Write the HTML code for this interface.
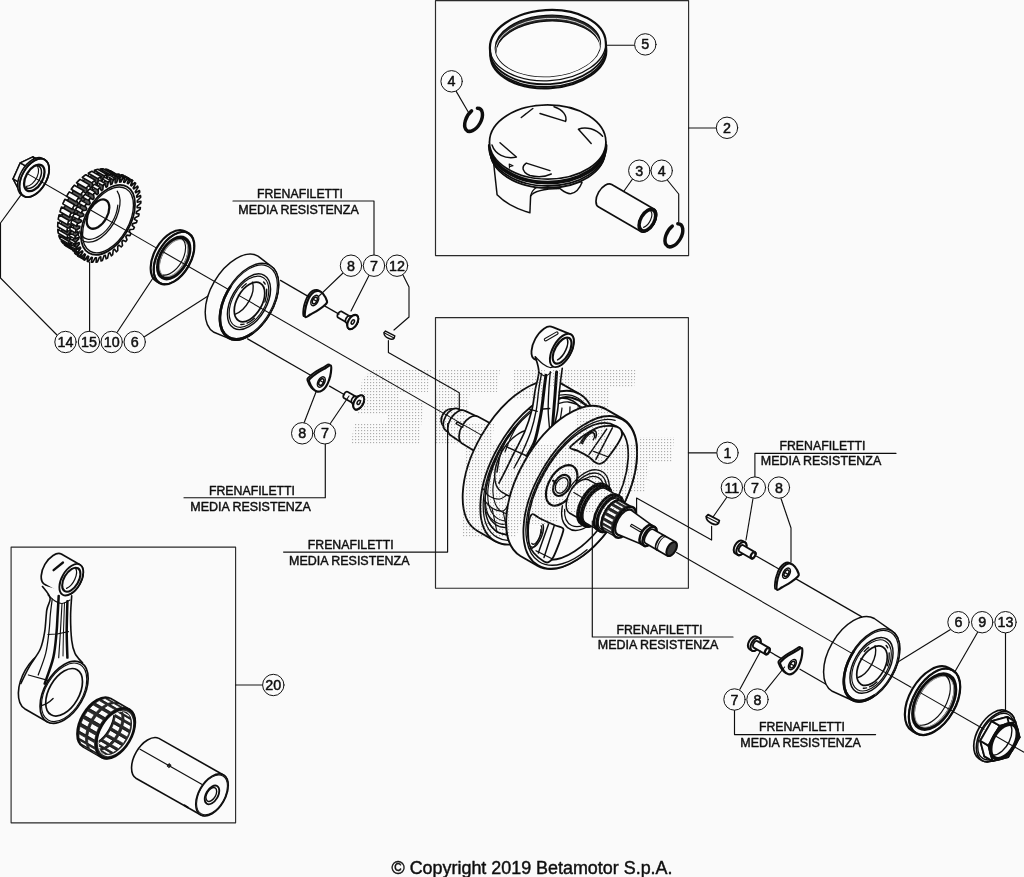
<!DOCTYPE html>
<html><head><meta charset="utf-8">
<style>html,body{margin:0;padding:0;background:#fafafa;}svg{display:block}</style></head>
<body><svg width="1024" height="877" viewBox="0 0 1024 877" font-family="'Liberation Sans', sans-serif" fill="none" stroke="#111" stroke-linecap="round" stroke-linejoin="round">
<rect x="0" y="0" width="1024" height="877" fill="#fafafa" stroke="none"/>
<defs><filter id="soft" x="0" y="0" width="100%" height="100%" filterUnits="userSpaceOnUse"><feGaussianBlur stdDeviation="0.38"/></filter></defs>
<g filter="url(#soft)">
<rect x="435.5" y="0.6" width="253.10000000000002" height="255.0" fill="none" stroke-width="1.15" stroke="#2a2a2a"/>
<rect x="435.5" y="317.6" width="252.89999999999998" height="270.6" fill="none" stroke-width="1.15" stroke="#2a2a2a"/>
<rect x="11.1" y="547.1" width="224.5" height="275.69999999999993" fill="none" stroke-width="1.15" stroke="#2a2a2a"/>
<path d="M156.6 281.3 A16.63 28.80 30 0 1 185.4 231.4 L188.4 233.2 A16.63 28.80 30 0 1 159.6 283.0 Z" fill="#fbfbfb" stroke-width="2.18" />
<ellipse cx="174.0" cy="258.1" rx="16.63" ry="28.80" transform="rotate(30 174.0 258.1)" fill="#fbfbfb" stroke-width="2.18" />
<ellipse cx="174.0" cy="258.1" rx="16.46" ry="28.50" transform="rotate(30 174.0 258.1)" fill="none" stroke-width="1.72" />
<ellipse cx="173.7" cy="258.0" rx="12.93" ry="22.40" transform="rotate(30 173.7 258.0)" fill="#fbfbfb" stroke-width="3.79" />
<ellipse cx="173.7" cy="258.0" rx="11.66" ry="20.20" transform="rotate(30 173.7 258.0)" fill="none" stroke-width="0.92" stroke="#999"/>
<path d="M180.0 237.6 A12.01 20.80 30 0 1 163.2 275.1" stroke-width="1.15" fill="none" />
<path d="M214.0 332.3 A25.41 44.00 30 0 1 258.0 256.1 L270.0 265.3 A24.25 42.00 30 0 1 228.0 338.1 Z" fill="#fbfbfb" stroke-width="1.49" />
<ellipse cx="249.0" cy="301.7" rx="24.25" ry="42.00" transform="rotate(30 249.0 301.7)" fill="#fbfbfb" stroke-width="1.49" />
<ellipse cx="249.0" cy="301.7" rx="23.21" ry="40.20" transform="rotate(30 249.0 301.7)" fill="none" stroke-width="1.15" />
<path d="M251.5 333.7 A23.73 41.10 30 0 1 230.3 286.8" stroke-width="2.53" fill="none" />
<ellipse cx="249.0" cy="301.7" rx="17.61" ry="30.50" transform="rotate(30 249.0 301.7)" fill="none" stroke-width="1.49" />
<ellipse cx="249.0" cy="301.7" rx="16.17" ry="28.00" transform="rotate(30 249.0 301.7)" fill="none" stroke-width="1.15" />
<ellipse cx="249.5" cy="302.0" rx="12.47" ry="21.60" transform="rotate(30 249.5 302.0)" fill="#fbfbfb" stroke-width="1.72" />
<path d="M252.5 282.1 A12.24 21.20 30 0 1 234.8 314.3" stroke-width="1.38" fill="none" />
<path d="M266.7 289.3 A14.32 24.80 30 0 1 264.9 302.0" stroke-width="1.38" fill="none" />
<path d="M254.4 318.3 A14.32 24.80 30 0 1 247.1 323.2" stroke-width="1.38" fill="none" />
<path d="M244.1 324.2 A14.32 24.80 30 0 1 240.8 324.5" stroke-width="1.38" fill="none" />
<path d="M263.6 281.9 A14.32 24.80 30 0 1 265.2 284.1" stroke-width="1.38" fill="none" />
<path d="M241.8 287.8 A14.32 24.80 30 0 1 246.2 283.7" stroke-width="1.38" fill="none" />
<path d="M832.3 691.3 A24.25 42.00 30 0 1 874.3 618.5 L891.5 630.7 A23.10 40.00 30 0 1 851.5 700.0 Z" fill="#fbfbfb" stroke-width="1.49" />
<ellipse cx="871.5" cy="665.4" rx="23.10" ry="40.00" transform="rotate(30 871.5 665.4)" fill="#fbfbfb" stroke-width="1.49" />
<ellipse cx="871.5" cy="665.4" rx="22.06" ry="38.20" transform="rotate(30 871.5 665.4)" fill="none" stroke-width="1.15" />
<path d="M873.9 695.8 A22.58 39.10 30 0 1 853.7 651.2" stroke-width="2.53" fill="none" />
<ellipse cx="871.5" cy="665.4" rx="17.61" ry="30.50" transform="rotate(30 871.5 665.4)" fill="none" stroke-width="1.49" />
<ellipse cx="871.5" cy="665.4" rx="16.17" ry="28.00" transform="rotate(30 871.5 665.4)" fill="none" stroke-width="1.15" />
<ellipse cx="872.0" cy="665.7" rx="12.47" ry="21.60" transform="rotate(30 872.0 665.7)" fill="#fbfbfb" stroke-width="1.72" />
<path d="M875.0 645.8 A12.24 21.20 30 0 1 857.3 677.9" stroke-width="1.38" fill="none" />
<path d="M889.2 653.0 A14.32 24.80 30 0 1 887.4 665.7" stroke-width="1.38" fill="none" />
<path d="M876.9 681.9 A14.32 24.80 30 0 1 869.6 686.9" stroke-width="1.38" fill="none" />
<path d="M866.6 687.9 A14.32 24.80 30 0 1 863.3 688.2" stroke-width="1.38" fill="none" />
<path d="M886.1 645.6 A14.32 24.80 30 0 1 887.7 647.8" stroke-width="1.38" fill="none" />
<path d="M864.3 651.5 A14.32 24.80 30 0 1 868.7 647.4" stroke-width="1.38" fill="none" />
<path d="M912.4 731.1 A21.02 36.40 30 0 1 948.8 668.0 L952.7 670.3 A21.02 36.40 30 0 1 916.3 733.3 Z" fill="#fbfbfb" stroke-width="2.18" />
<ellipse cx="934.5" cy="701.8" rx="21.02" ry="36.40" transform="rotate(30 934.5 701.8)" fill="#fbfbfb" stroke-width="2.18" />
<ellipse cx="934.5" cy="701.8" rx="20.84" ry="36.10" transform="rotate(30 934.5 701.8)" fill="none" stroke-width="1.72" />
<ellipse cx="934.2" cy="701.7" rx="17.32" ry="30.00" transform="rotate(30 934.2 701.7)" fill="#fbfbfb" stroke-width="3.79" />
<ellipse cx="934.2" cy="701.7" rx="16.05" ry="27.80" transform="rotate(30 934.2 701.7)" fill="none" stroke-width="0.92" stroke="#999"/>
<path d="M943.1 674.1 A16.40 28.40 30 0 1 920.1 725.2" stroke-width="1.15" fill="none" />
<path d="M31.0 183.0 L18.4 189.0 L13.1 178.9 L20.3 162.8 L32.9 156.9 L38.2 167.0 Z" stroke-width="1.49" fill="#fbfbfb" />
<path d="M31.0 183.0 L18.4 189.0 L24.9 192.8 L37.5 186.8 Z" stroke-width="1.49" fill="#fbfbfb" />
<path d="M18.4 189.0 L13.1 178.9 L19.6 182.7 L24.9 192.8 Z" stroke-width="1.49" fill="#fbfbfb" />
<path d="M13.1 178.9 L20.3 162.8 L26.8 166.6 L19.6 182.7 Z" stroke-width="1.49" fill="#fbfbfb" />
<path d="M20.3 162.8 L32.9 156.9 L39.4 160.6 L26.8 166.6 Z" stroke-width="1.49" fill="#fbfbfb" />
<path d="M32.9 156.9 L38.2 167.0 L44.7 170.7 L39.4 160.6 Z" stroke-width="1.49" fill="#fbfbfb" />
<path d="M38.2 167.0 L31.0 183.0 L37.5 186.8 L44.7 170.7 Z" stroke-width="1.49" fill="#fbfbfb" />
<path d="M37.5 186.8 L24.9 192.8 L19.6 182.7 L26.8 166.6 L39.4 160.6 L44.7 170.7 Z" stroke-width="1.49" fill="#fbfbfb" />
<path d="M21.4 194.7 A12.13 21.00 30 0 1 42.4 158.4 L44.8 159.8 A12.13 21.00 30 0 1 23.8 196.1 Z" fill="#fbfbfb" stroke-width="1.61" />
<ellipse cx="34.3" cy="177.9" rx="12.13" ry="21.00" transform="rotate(30 34.3 177.9)" fill="#fbfbfb" stroke-width="1.61" />
<ellipse cx="34.3" cy="177.9" rx="12.13" ry="21.00" transform="rotate(30 34.3 177.9)" fill="none" stroke-width="1.84" />
<ellipse cx="34.3" cy="177.9" rx="8.37" ry="14.50" transform="rotate(30 34.3 177.9)" fill="#fbfbfb" stroke-width="2.30" />
<path d="M34.9 165.8 A7.22 12.50 30 1 1 25.8 187.4" stroke-width="1.49" fill="none" />
<path d="M36.0 165.0 A6.93 12.00 30 0 1 26.4 186.4" stroke-width="1.15" fill="none" />
<path d="M108.3 219.2 L109.8 222.2 L108.5 224.2 L105.4 223.9 L104.2 225.6 L105.0 229.2 L103.5 231.0 L100.8 229.8 L99.5 231.4 L99.6 235.5 L98.0 237.0 L95.8 235.0 L94.4 236.2 L93.8 240.7 L92.1 241.9 L90.5 239.1 L89.0 240.0 L87.7 244.7 L86.1 245.5 L85.1 242.0 L83.7 242.6 L81.8 247.3 L80.1 247.7 L79.9 243.7 L78.5 243.9 L76.0 248.4 L74.5 248.4 L75.0 244.0 L73.7 243.9 L70.8 248.0 L69.4 247.6 L70.6 243.0 L69.5 242.4 L66.2 246.1 L65.0 245.3 L66.9 240.6 L66.0 239.7 L62.5 242.7 L61.6 241.5 L64.0 237.0 L63.4 235.8 L59.7 238.0 L59.2 236.5 L62.1 232.3 L61.7 230.9 L58.1 232.3 L57.9 230.5 L61.2 226.8 L61.1 225.1 L57.7 225.5 L57.8 223.5 L61.3 220.5 L61.5 218.6 L58.4 218.2 L58.9 216.1 L62.5 213.7 L63.0 211.8 L60.3 210.5 L61.1 208.3 L64.6 206.8 L65.4 204.9 L63.3 202.7 L64.3 200.5 L67.7 199.9 L68.8 198.1 L67.3 195.1 L68.5 193.1 L71.6 193.4 L72.9 191.7 L72.0 188.1 L73.5 186.2 L76.2 187.5 L77.6 185.9 L77.4 181.8 L79.0 180.2 L81.2 182.3 L82.7 181.1 L83.3 176.6 L84.9 175.3 L86.5 178.2 L88.0 177.3 L89.3 172.6 L91.0 171.7 L91.9 175.3 L93.4 174.7 L95.3 170.0 L96.9 169.5 L97.1 173.6 L98.5 173.4 L101.0 168.9 L102.5 168.8 L102.0 173.3 L103.3 173.4 L106.3 169.3 L107.6 169.7 L106.4 174.3 L107.6 174.8 L110.8 171.2 L112.0 172.0 L110.1 176.7 L111.0 177.6 L114.6 174.6 L115.4 175.7 L113.0 180.3 L113.7 181.5 L117.3 179.2 L117.8 180.7 L115.0 184.9 L115.3 186.4 L118.9 185.0 L119.1 186.8 L115.9 190.5 L115.9 192.2 L119.3 191.7 L119.2 193.7 L115.7 196.8 L115.5 198.7 L118.6 199.1 L118.2 201.2 L114.6 203.5 L114.1 205.5 L116.7 206.8 L116.0 209.0 L112.4 210.5 L111.6 212.4 L113.7 214.6 L112.7 216.8 L109.3 217.3 Z" stroke-width="1.15" fill="#fbfbfb" />
<path d="M69.1 242.2 A22.40 38.80 30 0 1 107.9 175.0 L117.4 180.5 A22.40 38.80 30 0 1 78.6 247.7 Z" fill="#555" stroke-width="1.15" />
<path d="M71.6 248.2 L68.6 247.3 L78.2 252.8 L81.1 253.7 Z" stroke-width="1.61" fill="#fbfbfb" />
<path d="M66.9 246.5 L64.4 244.8 L74.0 250.3 L76.4 252.0 Z" stroke-width="1.61" fill="#fbfbfb" />
<path d="M63.0 243.3 L61.1 240.8 L70.7 246.3 L72.5 248.8 Z" stroke-width="1.61" fill="#fbfbfb" />
<path d="M60.1 238.9 L58.9 235.6 L68.4 241.1 L69.6 244.4 Z" stroke-width="1.61" fill="#fbfbfb" />
<path d="M58.3 233.2 L57.8 229.4 L67.3 234.9 L67.8 238.7 Z" stroke-width="1.61" fill="#fbfbfb" />
<path d="M57.7 226.7 L57.9 222.4 L67.4 227.9 L67.2 232.2 Z" stroke-width="1.61" fill="#fbfbfb" />
<path d="M58.2 219.4 L59.1 214.8 L68.7 220.3 L67.8 224.9 Z" stroke-width="1.61" fill="#fbfbfb" />
<path d="M60.0 211.7 L61.5 207.0 L71.0 212.5 L69.5 217.2 Z" stroke-width="1.61" fill="#fbfbfb" />
<path d="M62.8 203.9 L64.9 199.3 L74.5 204.8 L72.3 209.4 Z" stroke-width="1.61" fill="#fbfbfb" />
<path d="M66.6 196.3 L69.3 191.9 L78.8 197.4 L76.1 201.8 Z" stroke-width="1.61" fill="#fbfbfb" />
<path d="M71.2 189.2 L74.3 185.2 L83.9 190.7 L80.7 194.7 Z" stroke-width="1.61" fill="#fbfbfb" />
<path d="M76.5 182.8 L80.0 179.4 L89.5 184.9 L86.1 188.3 Z" stroke-width="1.61" fill="#fbfbfb" />
<path d="M82.3 177.4 L85.9 174.7 L95.4 180.2 L91.8 182.9 Z" stroke-width="1.61" fill="#fbfbfb" />
<path d="M88.3 173.2 L91.9 171.3 L101.5 176.8 L97.8 178.7 Z" stroke-width="1.61" fill="#fbfbfb" />
<path d="M94.3 170.3 L97.8 169.3 L107.4 174.8 L103.9 175.8 Z" stroke-width="1.61" fill="#fbfbfb" />
<path d="M100.1 169.0 L103.4 168.9 L112.9 174.4 L109.7 174.5 Z" stroke-width="1.61" fill="#fbfbfb" />
<path d="M105.5 169.1 L108.4 169.9 L117.9 175.4 L115.0 174.6 Z" stroke-width="1.61" fill="#fbfbfb" />
<path d="M110.2 170.8 L112.6 172.5 L122.1 178.0 L119.7 176.3 Z" stroke-width="1.61" fill="#fbfbfb" />
<path d="M117.8 224.7 L119.3 227.7 L118.0 229.7 L114.9 229.4 L113.7 231.1 L114.5 234.7 L113.1 236.5 L110.4 235.3 L109.0 236.9 L109.1 241.0 L107.5 242.5 L105.4 240.5 L103.9 241.7 L103.3 246.2 L101.6 247.4 L100.1 244.6 L98.5 245.5 L97.3 250.2 L95.6 251.0 L94.7 247.5 L93.2 248.1 L91.3 252.8 L89.6 253.2 L89.4 249.2 L88.0 249.4 L85.5 253.9 L84.0 253.9 L84.5 249.5 L83.2 249.4 L80.3 253.5 L78.9 253.1 L80.1 248.5 L79.0 247.9 L75.7 251.6 L74.6 250.8 L76.4 246.1 L75.5 245.2 L72.0 248.2 L71.1 247.0 L73.5 242.5 L72.9 241.3 L69.3 243.5 L68.7 242.0 L71.6 237.8 L71.2 236.4 L67.7 237.8 L67.4 236.0 L70.7 232.3 L70.6 230.6 L67.2 231.0 L67.3 229.0 L70.8 226.0 L71.0 224.1 L68.0 223.7 L68.4 221.6 L72.0 219.2 L72.5 217.3 L69.9 216.0 L70.6 213.8 L74.2 212.3 L75.0 210.4 L72.8 208.2 L73.9 206.0 L77.3 205.4 L78.3 203.6 L76.8 200.6 L78.0 198.6 L81.2 198.9 L82.4 197.2 L81.6 193.6 L83.0 191.7 L85.7 193.0 L87.1 191.4 L87.0 187.3 L88.6 185.7 L90.7 187.8 L92.2 186.6 L92.8 182.1 L94.5 180.8 L96.0 183.7 L97.5 182.8 L98.8 178.1 L100.5 177.2 L101.4 180.8 L102.9 180.2 L104.8 175.5 L106.4 175.0 L106.7 179.1 L108.1 178.9 L110.5 174.4 L112.1 174.3 L111.6 178.8 L112.9 178.9 L115.8 174.8 L117.2 175.2 L116.0 179.8 L117.1 180.3 L120.4 176.7 L121.5 177.5 L119.7 182.2 L120.6 183.1 L124.1 180.1 L125.0 181.2 L122.6 185.8 L123.2 187.0 L126.8 184.7 L127.4 186.2 L124.5 190.4 L124.8 191.9 L128.4 190.5 L128.7 192.3 L125.4 196.0 L125.5 197.7 L128.9 197.2 L128.8 199.2 L125.3 202.3 L125.0 204.2 L128.1 204.6 L127.7 206.7 L124.1 209.0 L123.6 211.0 L126.2 212.3 L125.5 214.5 L121.9 216.0 L121.1 217.9 L123.2 220.1 L122.2 222.3 L118.8 222.8 Z" stroke-width="1.38" fill="#fbfbfb" />
<path d="M78.8 247.5 A22.23 38.50 30 0 1 117.3 180.8 L121.6 183.3 A22.23 38.50 30 0 1 83.1 250.0 Z" fill="#555" stroke-width="1.15" />
<path d="M123.6 227.8 L125.3 230.6 L124.3 232.3 L121.1 231.9 L120.1 233.4 L121.4 236.7 L120.2 238.3 L117.4 237.1 L116.3 238.5 L116.9 242.3 L115.6 243.8 L113.3 241.8 L112.0 243.0 L112.1 247.3 L110.7 248.5 L108.9 245.9 L107.6 247.0 L107.1 251.5 L105.7 252.5 L104.3 249.3 L103.0 250.1 L101.9 254.8 L100.5 255.6 L99.7 251.9 L98.4 252.5 L96.8 257.3 L95.4 257.8 L95.2 253.6 L93.9 254.0 L91.8 258.7 L90.4 258.9 L90.8 254.5 L89.6 254.5 L87.1 259.1 L85.8 259.0 L86.7 254.3 L85.6 254.1 L82.7 258.4 L81.6 258.0 L83.0 253.3 L82.1 252.8 L78.8 256.7 L77.8 256.1 L79.8 251.3 L79.0 250.6 L75.5 254.1 L74.7 253.1 L77.2 248.5 L76.5 247.6 L72.9 250.5 L72.3 249.3 L75.1 244.9 L74.7 243.8 L71.0 246.0 L70.6 244.7 L73.7 240.6 L73.5 239.3 L69.8 240.9 L69.7 239.3 L73.1 235.8 L73.0 234.3 L69.5 235.1 L69.5 233.4 L73.1 230.4 L73.3 228.8 L70.0 228.9 L70.2 227.1 L73.9 224.7 L74.3 223.1 L71.2 222.4 L71.7 220.6 L75.4 218.8 L75.9 217.2 L73.3 215.8 L74.0 213.9 L77.5 212.9 L78.3 211.2 L76.0 209.1 L76.9 207.3 L80.3 207.0 L81.2 205.4 L79.4 202.7 L80.5 200.9 L83.6 201.4 L84.6 199.9 L83.4 196.6 L84.6 195.0 L87.4 196.2 L88.5 194.8 L87.8 191.0 L89.1 189.5 L91.5 191.4 L92.7 190.2 L92.6 186.0 L94.0 184.7 L95.9 187.3 L97.2 186.3 L97.6 181.8 L99.1 180.8 L100.4 183.9 L101.7 183.1 L102.8 178.4 L104.2 177.7 L105.0 181.3 L106.3 180.8 L107.9 176.0 L109.4 175.5 L109.6 179.6 L110.8 179.3 L112.9 174.6 L114.3 174.4 L113.9 178.8 L115.1 178.8 L117.7 174.2 L118.9 174.3 L118.0 178.9 L119.1 179.1 L122.0 174.9 L123.2 175.2 L121.7 180.0 L122.7 180.4 L125.9 176.5 L126.9 177.2 L124.9 181.9 L125.7 182.6 L129.2 179.2 L130.0 180.1 L127.6 184.7 L128.2 185.7 L131.9 182.8 L132.5 184.0 L129.6 188.3 L130.1 189.5 L133.8 187.2 L134.2 188.6 L131.0 192.6 L131.2 193.9 L134.9 192.4 L135.1 194.0 L131.7 197.5 L131.7 199.0 L135.2 198.1 L135.2 199.8 L131.6 202.9 L131.4 204.4 L134.8 204.4 L134.5 206.2 L130.8 208.6 L130.5 210.2 L133.5 210.9 L133.0 212.7 L129.3 214.4 L128.8 216.1 L131.5 217.5 L130.8 219.4 L127.2 220.4 L126.5 222.0 L128.7 224.1 L127.8 226.0 L124.4 226.2 Z" stroke-width="1.38" fill="#fbfbfb" />
<path d="M81.6 252.6 A23.96 41.50 30 0 1 123.1 180.7 L128.8 183.9 A23.96 41.50 30 0 1 87.2 255.8 Z" fill="#555" stroke-width="1.15" />
<path d="M79.2 257.0 L77.5 255.8 L83.1 259.1 L84.9 260.2 Z" stroke-width="1.38" fill="#fbfbfb" />
<path d="M75.9 254.4 L74.4 252.8 L80.0 256.0 L81.5 257.6 Z" stroke-width="1.38" fill="#fbfbfb" />
<path d="M73.1 250.9 L72.0 248.8 L77.7 252.1 L78.8 254.1 Z" stroke-width="1.38" fill="#fbfbfb" />
<path d="M71.1 246.6 L70.4 244.1 L76.1 247.4 L76.8 249.8 Z" stroke-width="1.38" fill="#fbfbfb" />
<path d="M69.9 241.5 L69.6 238.7 L75.2 241.9 L75.5 244.7 Z" stroke-width="1.38" fill="#fbfbfb" />
<path d="M69.5 235.8 L69.6 232.8 L75.2 236.0 L75.1 239.0 Z" stroke-width="1.38" fill="#fbfbfb" />
<path d="M69.9 229.6 L70.4 226.4 L76.0 229.7 L75.5 232.9 Z" stroke-width="1.38" fill="#fbfbfb" />
<path d="M71.1 223.1 L71.9 219.8 L77.6 223.1 L76.7 226.4 Z" stroke-width="1.38" fill="#fbfbfb" />
<path d="M73.0 216.5 L74.3 213.2 L79.9 216.4 L78.6 219.7 Z" stroke-width="1.38" fill="#fbfbfb" />
<path d="M75.7 209.9 L77.3 206.6 L82.9 209.8 L81.3 213.1 Z" stroke-width="1.38" fill="#fbfbfb" />
<path d="M79.0 203.4 L80.9 200.3 L86.5 203.5 L84.6 206.6 Z" stroke-width="1.38" fill="#fbfbfb" />
<path d="M82.9 197.2 L85.1 194.3 L90.7 197.6 L88.6 200.5 Z" stroke-width="1.38" fill="#fbfbfb" />
<path d="M87.3 191.6 L89.7 189.0 L95.3 192.2 L92.9 194.8 Z" stroke-width="1.38" fill="#fbfbfb" />
<path d="M92.1 186.5 L94.6 184.3 L100.2 187.5 L97.7 189.8 Z" stroke-width="1.38" fill="#fbfbfb" />
<path d="M97.1 182.2 L99.6 180.4 L105.3 183.6 L102.7 185.5 Z" stroke-width="1.38" fill="#fbfbfb" />
<path d="M102.2 178.8 L104.8 177.4 L110.4 180.6 L107.9 182.0 Z" stroke-width="1.38" fill="#fbfbfb" />
<path d="M107.4 176.2 L109.9 175.3 L115.5 178.6 L113.0 179.5 Z" stroke-width="1.38" fill="#fbfbfb" />
<path d="M112.4 174.7 L114.8 174.3 L120.4 177.6 L118.0 177.9 Z" stroke-width="1.38" fill="#fbfbfb" />
<path d="M117.2 174.2 L119.4 174.3 L125.1 177.6 L122.8 177.4 Z" stroke-width="1.38" fill="#fbfbfb" />
<path d="M121.6 174.7 L123.6 175.4 L129.2 178.6 L127.2 178.0 Z" stroke-width="1.38" fill="#fbfbfb" />
<path d="M125.5 176.3 L127.3 177.5 L132.9 180.7 L131.1 179.6 Z" stroke-width="1.38" fill="#fbfbfb" />
<path d="M129.2 231.1 L130.9 233.8 L129.9 235.6 L126.8 235.1 L125.8 236.6 L127.0 239.9 L125.8 241.6 L123.0 240.3 L121.9 241.7 L122.5 245.5 L121.2 247.0 L118.9 245.1 L117.7 246.3 L117.8 250.5 L116.4 251.8 L114.5 249.2 L113.2 250.2 L112.7 254.7 L111.3 255.8 L109.9 252.6 L108.6 253.4 L107.6 258.1 L106.1 258.9 L105.3 255.2 L104.0 255.8 L102.4 260.5 L101.0 261.0 L100.8 256.9 L99.5 257.2 L97.4 261.9 L96.1 262.2 L96.4 257.7 L95.2 257.8 L92.7 262.3 L91.4 262.2 L92.3 257.6 L91.3 257.4 L88.3 261.7 L87.2 261.3 L88.7 256.5 L87.7 256.1 L84.5 260.0 L83.5 259.3 L85.4 254.6 L84.6 253.9 L81.2 257.3 L80.3 256.4 L82.8 251.8 L82.1 250.8 L78.5 253.7 L77.9 252.5 L80.7 248.2 L80.3 247.0 L76.6 249.3 L76.2 247.9 L79.4 243.9 L79.1 242.6 L75.5 244.1 L75.3 242.6 L78.7 239.0 L78.7 237.6 L75.1 238.4 L75.2 236.7 L78.8 233.7 L78.9 232.1 L75.6 232.2 L75.9 230.4 L79.6 228.0 L79.9 226.3 L76.9 225.7 L77.4 223.8 L81.0 222.1 L81.6 220.4 L78.9 219.0 L79.6 217.2 L83.2 216.1 L83.9 214.5 L81.6 212.4 L82.5 210.6 L85.9 210.3 L86.8 208.7 L85.1 205.9 L86.1 204.2 L89.2 204.7 L90.2 203.2 L89.0 199.8 L90.2 198.2 L93.0 199.4 L94.1 198.1 L93.5 194.2 L94.8 192.8 L97.1 194.7 L98.3 193.5 L98.2 189.3 L99.6 188.0 L101.5 190.6 L102.8 189.6 L103.3 185.0 L104.7 184.0 L106.1 187.2 L107.4 186.4 L108.4 181.7 L109.9 180.9 L110.7 184.6 L112.0 184.0 L113.6 179.3 L115.0 178.8 L115.2 182.9 L116.5 182.6 L118.6 177.8 L119.9 177.6 L119.6 182.1 L120.8 182.0 L123.3 177.4 L124.6 177.5 L123.7 182.2 L124.7 182.4 L127.7 178.1 L128.8 178.5 L127.3 183.2 L128.3 183.7 L131.5 179.8 L132.5 180.4 L130.6 185.2 L131.4 185.9 L134.8 182.5 L135.7 183.4 L133.2 188.0 L133.9 188.9 L137.5 186.1 L138.1 187.2 L135.3 191.6 L135.7 192.7 L139.4 190.5 L139.8 191.9 L136.6 195.9 L136.9 197.2 L140.5 195.6 L140.7 197.2 L137.3 200.8 L137.3 202.2 L140.9 201.4 L140.8 203.1 L137.2 206.1 L137.1 207.7 L140.4 207.6 L140.1 209.4 L136.4 211.8 L136.1 213.4 L139.1 214.1 L138.6 216.0 L135.0 217.7 L134.4 219.4 L137.1 220.8 L136.4 222.6 L132.8 223.6 L132.1 225.3 L134.4 227.4 L133.5 229.2 L130.1 229.5 Z" stroke-width="1.61" fill="#fbfbfb" />
<ellipse cx="108.0" cy="219.9" rx="22.06" ry="38.20" transform="rotate(30 108.0 219.9)" fill="#fbfbfb" stroke-width="1.84" />
<ellipse cx="108.0" cy="219.9" rx="20.79" ry="36.00" transform="rotate(30 108.0 219.9)" fill="none" stroke-width="1.38" />
<path d="M117.2 191.2 A17.61 30.50 30 1 1 77.2 231.0" stroke-width="1.26" fill="none" />
<path d="M117.8 205.2 A15.88 27.50 30 0 1 79.7 231.0" stroke-width="1.26" fill="none" />
<ellipse cx="98.0" cy="214.1" rx="9.24" ry="16.00" transform="rotate(30 98.0 214.1)" fill="#fbfbfb" stroke-width="2.30" />
<path d="M979.0 758.7 A15.88 27.50 30 0 1 1006.5 711.1 L1009.5 712.8 A15.88 27.50 30 0 1 982.0 760.5 Z" fill="#fbfbfb" stroke-width="1.72" />
<ellipse cx="995.8" cy="736.6" rx="15.88" ry="27.50" transform="rotate(30 995.8 736.6)" fill="#fbfbfb" stroke-width="1.72" />
<ellipse cx="995.8" cy="736.6" rx="14.72" ry="25.50" transform="rotate(30 995.8 736.6)" fill="none" stroke-width="1.38" />
<path d="M999.9 752.2 L984.4 756.4 L980.2 740.8 L991.6 721.1 L1007.2 716.9 L1011.3 732.5 Z" stroke-width="1.84" fill="#fbfbfb" />
<path d="M999.9 752.2 L984.4 756.4 L992.6 761.1 L1008.2 757.0 Z" stroke-width="1.84" fill="#fbfbfb" />
<path d="M984.4 756.4 L980.2 740.8 L988.4 745.6 L992.6 761.1 Z" stroke-width="1.84" fill="#fbfbfb" />
<path d="M980.2 740.8 L991.6 721.1 L999.8 725.8 L988.4 745.6 Z" stroke-width="1.84" fill="#fbfbfb" />
<path d="M991.6 721.1 L1007.2 716.9 L1015.4 721.7 L999.8 725.8 Z" stroke-width="1.84" fill="#fbfbfb" />
<path d="M1007.2 716.9 L1011.3 732.5 L1019.6 737.2 L1015.4 721.7 Z" stroke-width="1.84" fill="#fbfbfb" />
<path d="M1011.3 732.5 L999.9 752.2 L1008.2 757.0 L1019.6 737.2 Z" stroke-width="1.84" fill="#fbfbfb" />
<path d="M1008.2 757.0 L992.6 761.1 L988.4 745.6 L999.8 725.8 L1015.4 721.7 L1019.6 737.2 Z" stroke-width="1.84" fill="#fbfbfb" />
<ellipse cx="1004.0" cy="741.4" rx="10.97" ry="19.00" transform="rotate(30 1004.0 741.4)" fill="#fbfbfb" stroke-width="3.79" />
<path d="M1008.8 722.9 A10.68 18.50 30 0 1 993.3 755.3" stroke-width="1.38" fill="none" />
<path d="M303.6 316.0 C302.7 315.2 303.2 311.5 303.5 309.0 C303.8 306.5 304.6 303.4 305.5 301.0 C306.4 298.6 307.4 296.4 308.6 294.7 C309.8 293.0 311.1 291.7 312.5 290.9 C313.9 290.1 315.4 289.6 316.9 289.9 C318.4 290.2 320.0 291.2 321.4 292.9 C322.8 294.6 324.7 298.3 325.2 299.9 C325.7 301.5 325.8 301.3 324.5 302.7 C323.2 304.1 320.1 306.6 317.5 308.4 C314.9 310.2 311.0 312.2 308.7 313.5 C306.4 314.8 304.5 316.8 303.6 316.0 Z" stroke-width="1.84" fill="#fbfbfb" />
<path d="M305.3 317.0 C304.4 316.2 304.9 312.5 305.2 310.0 C305.5 307.5 306.3 304.4 307.2 302.0 C308.1 299.6 309.1 297.4 310.3 295.7 C311.5 294.0 312.8 292.7 314.2 291.9 C315.6 291.1 317.1 290.6 318.6 290.9 C320.1 291.2 321.7 292.2 323.1 293.9 C324.5 295.6 326.4 299.3 326.9 300.9 C327.4 302.5 327.5 302.3 326.2 303.7 C324.9 305.1 321.8 307.6 319.2 309.4 C316.6 311.2 312.7 313.2 310.4 314.5 C308.1 315.8 306.2 317.8 305.3 317.0 Z" stroke-width="2.18" fill="#fbfbfb" />
<ellipse cx="314.8" cy="300.5" rx="3.23" ry="5.60" transform="rotate(30 314.8 300.5)" fill="none" stroke-width="1.49" />
<ellipse cx="314.8" cy="300.5" rx="2.08" ry="3.60" transform="rotate(30 314.8 300.5)" fill="none" stroke-width="1.61" />
<path d="M338.0 317.6 A2.08 3.60 30 0 1 341.6 311.4 L350.3 316.4 A2.08 3.60 30 0 1 346.7 322.6 Z" fill="#fbfbfb" stroke-width="1.72" />
<path d="M346.2 322.4 A2.08 3.60 30 0 1 349.8 316.1 L356.7 315.2 A4.50 7.80 30 0 1 348.9 328.8 Z" fill="#fbfbfb" stroke-width="1.72" />
<ellipse cx="352.8" cy="322.0" rx="4.50" ry="7.80" transform="rotate(30 352.8 322.0)" fill="#fbfbfb" stroke-width="1.72" />
<ellipse cx="352.8" cy="322.0" rx="4.50" ry="7.80" transform="rotate(30 352.8 322.0)" fill="#fbfbfb" stroke-width="2.07" />
<ellipse cx="352.8" cy="322.0" rx="1.33" ry="2.30" transform="rotate(30 352.8 322.0)" fill="none" stroke-width="1.49" />
<path d="M329.1 364.5 C330.0 365.2 329.5 369.0 329.2 371.5 C328.9 374.0 328.1 377.1 327.2 379.5 C326.4 381.9 325.3 384.1 324.1 385.8 C322.9 387.5 321.6 388.8 320.2 389.6 C318.8 390.4 317.3 390.9 315.8 390.6 C314.3 390.3 312.7 389.3 311.3 387.6 C309.9 385.9 308.0 382.2 307.5 380.6 C307.0 379.0 306.9 379.2 308.2 377.8 C309.5 376.4 312.6 373.9 315.2 372.1 C317.8 370.3 321.7 368.3 324.0 367.0 C326.3 365.7 328.2 363.8 329.1 364.5 Z" stroke-width="1.84" fill="#fbfbfb" />
<path d="M330.8 365.5 C331.7 366.2 331.2 370.0 330.9 372.5 C330.6 375.0 329.8 378.1 328.9 380.5 C328.1 382.9 327.0 385.1 325.8 386.8 C324.6 388.5 323.3 389.8 321.9 390.6 C320.5 391.4 319.0 391.9 317.5 391.6 C316.0 391.3 314.4 390.3 313.0 388.6 C311.6 386.9 309.7 383.2 309.2 381.6 C308.7 380.0 308.6 380.2 309.9 378.8 C311.2 377.4 314.3 374.9 316.9 373.1 C319.5 371.3 323.4 369.3 325.7 368.0 C328.0 366.7 329.9 364.8 330.8 365.5 Z" stroke-width="2.18" fill="#fbfbfb" />
<ellipse cx="321.3" cy="382.0" rx="3.23" ry="5.60" transform="rotate(30 321.3 382.0)" fill="none" stroke-width="1.49" />
<ellipse cx="321.3" cy="382.0" rx="2.08" ry="3.60" transform="rotate(30 321.3 382.0)" fill="none" stroke-width="1.61" />
<path d="M343.9 398.0 A2.08 3.60 30 0 1 347.5 391.8 L356.2 396.8 A2.08 3.60 30 0 1 352.6 403.0 Z" fill="#fbfbfb" stroke-width="1.72" />
<path d="M352.1 402.8 A2.08 3.60 30 0 1 355.7 396.5 L362.6 395.6 A4.50 7.80 30 0 1 354.8 409.2 Z" fill="#fbfbfb" stroke-width="1.72" />
<ellipse cx="358.7" cy="402.4" rx="4.50" ry="7.80" transform="rotate(30 358.7 402.4)" fill="#fbfbfb" stroke-width="1.72" />
<ellipse cx="358.7" cy="402.4" rx="4.50" ry="7.80" transform="rotate(30 358.7 402.4)" fill="#fbfbfb" stroke-width="2.07" />
<ellipse cx="358.7" cy="402.4" rx="1.33" ry="2.30" transform="rotate(30 358.7 402.4)" fill="none" stroke-width="1.49" />
<g transform="translate(388.9 335.3) rotate(24) scale(0.78)"><path d="M-7.2 -0.5 L-6.2 -3.2 L7.2 -2.4 L7.6 0.4 C6.8 4.8 -4.5 5.2 -7.2 -0.5 Z" fill="#fbfbfb" stroke-width="1.8"/><path d="M-7.0 -0.4 L7.4 0.4" stroke-width="1.3"/></g>
<path d="M735.2 553.3 A4.16 7.20 30 0 1 742.4 540.8 L745.0 542.3 A4.16 7.20 30 0 1 737.8 554.8 Z" fill="#fbfbfb" stroke-width="2.07" />
<ellipse cx="741.4" cy="548.5" rx="4.16" ry="7.20" transform="rotate(30 741.4 548.5)" fill="#fbfbfb" stroke-width="2.07" />
<path d="M739.5 551.8 A2.14 3.70 30 0 1 743.2 545.3 L754.9 552.1 A2.14 3.70 30 0 1 751.2 558.5 Z" fill="#fbfbfb" stroke-width="1.84" />
<ellipse cx="753.1" cy="555.3" rx="2.14" ry="3.70" transform="rotate(30 753.1 555.3)" fill="#fbfbfb" stroke-width="1.84" />
<ellipse cx="753.1" cy="555.3" rx="1.50" ry="2.60" transform="rotate(30 753.1 555.3)" fill="none" stroke-width="1.15" />
<path d="M775.3 588.7 C774.4 588.0 774.9 584.2 775.2 581.7 C775.5 579.2 776.3 576.1 777.2 573.7 C778.0 571.3 779.1 569.1 780.3 567.4 C781.5 565.7 782.8 564.4 784.2 563.6 C785.6 562.8 787.1 562.3 788.6 562.6 C790.1 562.9 791.7 563.9 793.1 565.6 C794.5 567.3 796.4 571.0 796.9 572.6 C797.4 574.2 797.5 574.0 796.2 575.4 C794.9 576.8 791.8 579.3 789.2 581.1 C786.6 582.9 782.7 584.9 780.4 586.2 C778.1 587.5 776.2 589.5 775.3 588.7 Z" stroke-width="1.84" fill="#fbfbfb" />
<path d="M777.0 589.7 C776.1 589.0 776.6 585.2 776.9 582.7 C777.2 580.2 778.0 577.1 778.9 574.7 C779.8 572.3 780.8 570.1 782.0 568.4 C783.2 566.7 784.5 565.4 785.9 564.6 C787.3 563.8 788.8 563.3 790.3 563.6 C791.8 563.9 793.4 564.9 794.8 566.6 C796.2 568.3 798.1 572.0 798.6 573.6 C799.1 575.2 799.2 575.0 797.9 576.4 C796.6 577.8 793.5 580.3 790.9 582.1 C788.3 583.9 784.4 585.9 782.1 587.2 C779.8 588.5 777.9 590.5 777.0 589.7 Z" stroke-width="2.18" fill="#fbfbfb" />
<ellipse cx="786.5" cy="573.2" rx="3.23" ry="5.60" transform="rotate(30 786.5 573.2)" fill="none" stroke-width="1.49" />
<ellipse cx="786.5" cy="573.2" rx="2.08" ry="3.60" transform="rotate(30 786.5 573.2)" fill="none" stroke-width="1.61" />
<path d="M749.4 649.1 A4.16 7.20 30 0 1 756.6 636.6 L759.2 638.1 A4.16 7.20 30 0 1 752.0 650.6 Z" fill="#fbfbfb" stroke-width="2.07" />
<ellipse cx="755.6" cy="644.4" rx="4.16" ry="7.20" transform="rotate(30 755.6 644.4)" fill="#fbfbfb" stroke-width="2.07" />
<path d="M753.7 647.6 A2.14 3.70 30 0 1 757.4 641.1 L769.1 647.9 A2.14 3.70 30 0 1 765.4 654.3 Z" fill="#fbfbfb" stroke-width="1.84" />
<ellipse cx="767.3" cy="651.1" rx="2.14" ry="3.70" transform="rotate(30 767.3 651.1)" fill="#fbfbfb" stroke-width="1.84" />
<ellipse cx="767.3" cy="651.1" rx="1.50" ry="2.60" transform="rotate(30 767.3 651.1)" fill="none" stroke-width="1.15" />
<path d="M800.2 647.1 C801.1 647.9 800.6 651.6 800.3 654.1 C800.0 656.6 799.1 659.7 798.3 662.1 C797.4 664.5 796.4 666.7 795.2 668.4 C794.0 670.1 792.7 671.4 791.3 672.2 C789.9 673.0 788.4 673.5 786.9 673.2 C785.4 672.9 783.8 671.9 782.4 670.2 C781.0 668.5 779.1 664.8 778.6 663.2 C778.1 661.6 778.0 661.8 779.3 660.4 C780.6 659.0 783.7 656.5 786.3 654.7 C788.9 652.9 792.8 650.9 795.1 649.6 C797.4 648.3 799.3 646.4 800.2 647.1 Z" stroke-width="1.84" fill="#fbfbfb" />
<path d="M801.9 648.1 C802.8 648.9 802.3 652.6 802.0 655.1 C801.7 657.6 800.9 660.7 800.0 663.1 C799.1 665.5 798.1 667.7 796.9 669.4 C795.7 671.1 794.4 672.4 793.0 673.2 C791.6 674.0 790.1 674.5 788.6 674.2 C787.1 673.9 785.5 672.9 784.1 671.2 C782.7 669.5 780.8 665.8 780.3 664.2 C779.8 662.6 779.7 662.8 781.0 661.4 C782.3 660.0 785.4 657.5 788.0 655.7 C790.6 653.9 794.5 651.9 796.8 650.6 C799.1 649.3 801.0 647.4 801.9 648.1 Z" stroke-width="2.18" fill="#fbfbfb" />
<ellipse cx="792.4" cy="664.6" rx="3.23" ry="5.60" transform="rotate(30 792.4 664.6)" fill="none" stroke-width="1.49" />
<ellipse cx="792.4" cy="664.6" rx="2.08" ry="3.60" transform="rotate(30 792.4 664.6)" fill="none" stroke-width="1.61" />
<g transform="translate(712.2 519.8) rotate(24) scale(0.95)"><path d="M-7.2 -0.5 L-6.2 -3.2 L7.2 -2.4 L7.6 0.4 C6.8 4.8 -4.5 5.2 -7.2 -0.5 Z" fill="#fbfbfb" stroke-width="1.8"/><path d="M-7.0 -0.4 L7.4 0.4" stroke-width="1.3"/></g>
<path d="M280.5 280.4 L308.5 296.6" stroke-width="1.26" />
<path d="M313.0 299.1 L316.5 301.2" stroke-width="1.26" />
<path d="M325.0 306.1 L339.0 314.1" stroke-width="1.26" />
<path d="M247.6 338.9 L311.5 375.7" stroke-width="1.26" />
<path d="M319.5 380.3 L323.0 382.3" stroke-width="1.26" />
<path d="M329.5 386.1 L344.5 394.7" stroke-width="1.26" />
<path d="M756.6 556.2 L778.5 568.8" stroke-width="1.26" />
<path d="M785.0 572.6 L788.5 574.6" stroke-width="1.26" />
<path d="M796.0 578.9 L861.5 616.6" stroke-width="1.26" />
<path d="M768.9 651.3 L782.5 659.1" stroke-width="1.26" />
<path d="M791.0 664.0 L794.5 666.0" stroke-width="1.26" />
<path d="M800.0 669.2 L826.0 684.2" stroke-width="1.26" />
<path d="M388.4 340.5 L388.4 352.5 L459.3 392.8 L459.3 420.0" stroke-width="1.15" />
<path d="M711.6 526.2 L711.6 540.1 L636.6 498.0 L636.6 528.0" stroke-width="1.15" />
<g transform="rotate(-3.5 548.1 49.4)">
<path d="M490.1 45.4 A58.0 35.3 0 0 1 606.1 45.4 L606.1 53.0 A58.0 35.3 0 0 1 490.1 53.0 Z" fill="#fbfbfb" stroke-width="2.2"/>
<path d="M490.1 45.4 A58.0 35.3 0 0 0 606.1 45.4" stroke-width="1.3"/>
<path d="M490.1 48.8 A58.0 35.3 0 0 0 606.1 48.8" stroke-width="1.8"/>
<path d="M490.1 51.4 A58.0 35.3 0 0 0 606.1 51.4" stroke-width="1.6"/>
<clipPath id="r5c"><ellipse cx="548.1" cy="45.9" rx="52.6" ry="30.6"/></clipPath>
<ellipse cx="548.1" cy="45.9" rx="52.6" ry="30.6" fill="#2a2a2a" stroke-width="1.4"/>
<g clip-path="url(#r5c)"><ellipse cx="548.1" cy="51.699999999999996" rx="52.6" ry="30.6" fill="#fbfbfb" stroke-width="1.2"/><ellipse cx="548.1" cy="49.0" rx="52.6" ry="30.6" stroke="#fbfbfb" stroke-width="0.8"/></g>
</g>
<path d="M493.3 160 L497.1 194.8 C505 203 518 209.5 529.9 212.8 L530.6 196 C534 190.5 545 188.6 559.8 188.4 C562 190 566 194.2 571.2 193.6 C576 192.6 580 187.5 582 182.5 L560 170 Z" stroke-width="1.49" fill="#fbfbfb" />
<path d="M530.6 196 C531.5 192 533 189.5 536.5 187.5" stroke-width="1.26" fill="none" />
<path d="M489.50000000000006 142.0 L490.30000000000007 151.0 A57.400000000000006 37.2 0 0 0 605.1000000000001 151.0 L605.9000000000001 142.0 Z" fill="#fbfbfb" stroke-width="1.4"/>
<path d="M489.80000000000007 145.4 A57.900000000000006 37.2 0 0 0 605.6000000000001 145.4" stroke-width="3.8"/>
<path d="M489.80000000000007 148.8 A57.900000000000006 37.2 0 0 0 605.6000000000001 148.8" stroke-width="1.8"/>
<path d="M489.80000000000007 150.5 A57.900000000000006 37.2 0 0 0 605.6000000000001 150.5" stroke-width="1.2"/>
<ellipse cx="547.7" cy="142.0" rx="58.2" ry="37.2" fill="#fbfbfb" stroke-width="1.7"/>
<path d="M540 113.5 L565.5 121.4 C567.5 116 563 109.5 554 106.7" stroke-width="1.49" fill="none" />
<path d="M591.2 143.5 L578.4 129.2 C586 126 596 129 602.6 136.3" stroke-width="1.49" fill="none" />
<path d="M500 142.8 L516.4 157 C505 159.5 495 154 492 145" stroke-width="1.49" fill="none" />
<path d="M549.9 170.6 L526.3 163.1 C520.5 167 523 173 530 175.5 C538 177.5 546 176.5 551.3 174" stroke-width="1.49" fill="none" />
<path d="M521.3 117.5 L532.8 108.5" stroke-width="1.49" fill="none" />
<path d="M509.5 168 L509.2 164 L513 165.8 L509.4 166.6" stroke-width="1.15" fill="none" />
<path d="M598.7 207.1 A7.51 13.00 30 0 1 611.7 184.5 L653.9 208.9 A7.51 13.00 30 0 1 640.9 231.5 Z" fill="#fbfbfb" stroke-width="1.72" />
<ellipse cx="647.4" cy="220.2" rx="7.51" ry="13.00" transform="rotate(30 647.4 220.2)" fill="#fbfbfb" stroke-width="1.72" />
<ellipse cx="647.4" cy="220.2" rx="6.58" ry="11.40" transform="rotate(30 647.4 220.2)" fill="#fbfbfb" stroke-width="2.99" />
<path d="M650.9 211.1 A5.77 10.00 30 0 1 643.6 227.4" stroke-width="1.15" fill="none" />
<path d="M477.4 108.3 A7.28 12.60 30 1 1 471.6 110.9" stroke-width="3.45" fill="none" />
<path d="M677.8 223.8 A7.28 12.60 30 1 1 672.3 226.1" stroke-width="3.45" fill="none" />
<path d="M24.6 708.7 A19.63 34.00 30 0 1 58.6 649.9 L81.1 662.9 A19.63 34.00 30 0 1 47.1 721.7 Z" fill="#fbfbfb" stroke-width="1.61" />
<path d="M44.0 583.9 A9.52 17.30 30 0 1 61.3 554.0 L80.0 564.7 A9.52 17.30 30 0 1 62.6 594.7 Z" fill="#fbfbfb" stroke-width="1.72" />
<path d="M42.0 585.0 L50.1 598.0 L46.8 610.0 L44.7 631.6 L40.3 649.0 L29.5 666.3 L20.0 684.0 L40.0 700.0 L84.0 668.0 L82.6 663.0 L75.0 653.3 L71.7 640.3 L70.6 616.5 L71.7 595.9 L60.0 590.0 Z" stroke-width="0.00" fill="#fbfbfb" stroke="none"/>
<path d="M42.5 586.5 C43.8 588.4 49.4 594.1 50.1 598.0 C50.8 601.9 47.7 604.4 46.8 610.0 C45.9 615.6 45.8 625.1 44.7 631.6 C43.6 638.1 42.8 643.2 40.3 649.0 C37.8 654.8 32.8 660.5 29.5 666.3 C26.2 672.1 22.2 680.7 20.8 683.6" stroke-width="1.61" fill="none" />
<path d="M52.2 599.1 C51.9 601.8 50.8 609.6 50.3 615.0 C49.8 620.4 49.8 625.2 49.0 631.6 C48.2 638.0 47.5 646.1 45.7 653.3 C43.9 660.5 39.5 671.4 38.2 675.0" stroke-width="1.26" fill="none" />
<path d="M58.7 595.9 C58.5 599.1 58.0 609.0 57.6 615.0 C57.2 621.0 57.3 624.5 56.6 631.6 C55.9 638.7 55.3 648.9 53.3 657.6 C51.3 666.3 46.1 679.3 44.7 683.6" stroke-width="2.53" fill="none" />
<path d="M71.7 595.9 C71.5 599.3 70.6 609.1 70.6 616.5 C70.6 623.9 71.0 634.2 71.7 640.3 C72.4 646.4 73.2 649.5 75.0 653.3 C76.8 657.1 81.3 661.4 82.6 663.0" stroke-width="1.61" fill="none" />
<path d="M62.0 603.5 C61.8 607.9 61.0 621.0 60.5 630.0 C60.0 639.0 59.0 653.0 58.7 657.6" stroke-width="1.15" fill="none" />
<path d="M67.4 601.3 C67.3 606.3 66.7 622.2 66.7 631.6 C66.7 641.0 67.3 653.3 67.4 657.6" stroke-width="2.53" fill="none" />
<path d="M64.5 603.0 C64.3 607.7 63.8 622.2 63.5 631.0 C63.2 639.8 63.1 651.8 63.0 656.0" stroke-width="1.03" fill="none" />
<path d="M47.9 634.5 L57.0 634.0 L68.5 631.6" stroke-width="1.15" fill="none" />
<path d="M28.4 675.0 L47.9 680.4" stroke-width="1.26" fill="none" />
<path d="M44.7 705.0 L58.8 711.5" stroke-width="1.26" fill="none" />
<path d="M47.9 594.8 C49.1 595.8 52.6 599.5 55.0 601.0 C57.4 602.5 59.5 603.7 62.0 603.5 C64.5 603.3 68.7 600.6 70.0 600.0" stroke-width="1.15" fill="none" />
<ellipse cx="64.1" cy="692.3" rx="19.63" ry="34.00" transform="rotate(30 64.1 692.3)" fill="#fbfbfb" stroke-width="1.72" />
<ellipse cx="64.1" cy="692.3" rx="18.48" ry="32.00" transform="rotate(30 64.1 692.3)" fill="none" stroke-width="1.15" />
<ellipse cx="64.1" cy="692.3" rx="15.01" ry="26.00" transform="rotate(30 64.1 692.3)" fill="#fbfbfb" stroke-width="1.72" />
<path d="M53.1 698.6 A15.01 26.00 30 0 1 41.4 705.7" stroke-width="1.38" fill="none" />
<ellipse cx="71.3" cy="579.7" rx="9.52" ry="17.30" transform="rotate(30 71.3 579.7)" fill="#fbfbfb" stroke-width="1.84" />
<ellipse cx="71.3" cy="579.7" rx="7.26" ry="13.20" transform="rotate(30 71.3 579.7)" fill="#fbfbfb" stroke-width="2.07" />
<path d="M75.7 568.4 A6.93 12.60 30 0 1 66.6 588.4" stroke-width="1.26" fill="none" />
<path d="M53.6 570.2 L63.0 562.5" stroke-width="2.30" fill="none" />
<path d="M83.1 746.5 A15.88 27.50 30 0 1 110.6 698.8 L129.2 709.6 A15.88 27.50 30 0 1 101.8 757.2 Z" fill="#2b2b2b" stroke-width="2.53" />
<path d="M84.5 747.2 L82.2 745.3 L88.7 749.1 L91.0 751.0 Z" stroke-width="0.69" fill="#fbfbfb" />
<path d="M93.1 752.2 L90.8 750.3 L97.7 754.3 L100.0 756.2 Z" stroke-width="0.69" fill="#fbfbfb" />
<path d="M80.9 743.5 L79.6 740.4 L86.2 744.2 L87.5 747.3 Z" stroke-width="0.69" fill="#fbfbfb" />
<path d="M89.6 748.5 L88.3 745.4 L95.2 749.4 L96.5 752.5 Z" stroke-width="0.69" fill="#fbfbfb" />
<path d="M79.1 737.9 L78.9 733.8 L85.5 737.6 L85.7 741.7 Z" stroke-width="0.69" fill="#fbfbfb" />
<path d="M87.8 742.9 L87.6 738.8 L94.5 742.8 L94.7 746.9 Z" stroke-width="0.69" fill="#fbfbfb" />
<path d="M79.2 730.8 L80.1 726.2 L86.7 730.0 L85.8 734.6 Z" stroke-width="0.69" fill="#fbfbfb" />
<path d="M87.8 735.8 L88.8 731.2 L95.7 735.2 L94.8 739.8 Z" stroke-width="0.69" fill="#fbfbfb" />
<path d="M81.1 723.0 L83.1 718.4 L89.7 722.2 L87.7 726.8 Z" stroke-width="0.69" fill="#fbfbfb" />
<path d="M89.8 728.0 L91.8 723.4 L98.7 727.4 L96.7 732.0 Z" stroke-width="0.69" fill="#fbfbfb" />
<path d="M84.7 715.3 L87.6 711.0 L94.2 714.8 L91.3 719.1 Z" stroke-width="0.69" fill="#fbfbfb" />
<path d="M93.4 720.3 L96.3 716.0 L103.2 720.0 L100.3 724.3 Z" stroke-width="0.69" fill="#fbfbfb" />
<path d="M89.7 708.4 L93.1 704.9 L99.7 708.7 L96.3 712.2 Z" stroke-width="0.69" fill="#fbfbfb" />
<path d="M98.4 713.4 L101.8 709.9 L108.7 713.9 L105.3 717.4 Z" stroke-width="0.69" fill="#fbfbfb" />
<path d="M95.5 702.9 L99.2 700.6 L105.7 704.4 L102.1 706.7 Z" stroke-width="0.69" fill="#fbfbfb" />
<path d="M104.2 707.9 L107.8 705.6 L114.8 709.6 L111.1 711.9 Z" stroke-width="0.69" fill="#fbfbfb" />
<path d="M101.6 699.5 L105.1 698.5 L111.7 702.3 L108.2 703.3 Z" stroke-width="0.69" fill="#fbfbfb" />
<path d="M110.3 704.5 L113.8 703.5 L120.7 707.5 L117.2 708.5 Z" stroke-width="0.69" fill="#fbfbfb" />
<path d="M107.4 698.4 L110.4 698.9 L117.0 702.7 L113.9 702.2 Z" stroke-width="0.69" fill="#fbfbfb" />
<path d="M116.0 703.4 L119.1 703.9 L126.0 707.9 L122.9 707.4 Z" stroke-width="0.69" fill="#fbfbfb" />
<ellipse cx="115.5" cy="733.4" rx="15.88" ry="27.50" transform="rotate(30 115.5 733.4)" fill="#2b2b2b" stroke-width="2.53" />
<ellipse cx="115.5" cy="733.4" rx="13.97" ry="24.20" transform="rotate(30 115.5 733.4)" fill="#2b2b2b" stroke-width="1.15" stroke="#fbfbfb"/>
<clipPath id="ndc"><ellipse cx="115.5" cy="733.4" rx="13.97" ry="24.20" transform="rotate(30 115.5 733.4)"/></clipPath><g clip-path="url(#ndc)">
<path d="M110.2 730.6 L107.7 734.4 L114.3 738.2 L116.8 734.4 Z" stroke-width="0.69" fill="#fbfbfb" />
<path d="M118.9 735.6 L116.4 739.4 L123.3 743.4 L125.8 739.6 Z" stroke-width="0.69" fill="#fbfbfb" />
<path d="M105.9 736.7 L102.9 739.7 L109.5 743.5 L112.5 740.5 Z" stroke-width="0.69" fill="#fbfbfb" />
<path d="M114.6 741.7 L111.6 744.7 L118.5 748.7 L121.5 745.7 Z" stroke-width="0.69" fill="#fbfbfb" />
<path d="M100.8 741.5 L97.6 743.5 L104.2 747.3 L107.4 745.3 Z" stroke-width="0.69" fill="#fbfbfb" />
<path d="M109.5 746.5 L106.3 748.5 L113.2 752.5 L116.4 750.5 Z" stroke-width="0.69" fill="#fbfbfb" />
<path d="M95.5 744.5 L92.4 745.3 L99.0 749.1 L102.1 748.3 Z" stroke-width="0.69" fill="#fbfbfb" />
<path d="M104.2 749.5 L101.1 750.3 L108.0 754.3 L111.1 753.5 Z" stroke-width="0.69" fill="#fbfbfb" />
<path d="M90.5 745.4 L87.8 744.9 L94.4 748.7 L97.1 749.2 Z" stroke-width="0.69" fill="#fbfbfb" />
<path d="M99.2 750.4 L96.5 749.9 L103.4 753.9 L106.1 754.4 Z" stroke-width="0.69" fill="#fbfbfb" />
<path d="M110.5 702.8 L112.5 704.5 L119.1 708.3 L117.1 706.6 Z" stroke-width="0.69" fill="#fbfbfb" />
<path d="M119.1 707.8 L121.1 709.5 L128.1 713.5 L126.1 711.8 Z" stroke-width="0.69" fill="#fbfbfb" />
<path d="M113.6 706.0 L114.7 708.8 L121.3 712.6 L120.1 709.8 Z" stroke-width="0.69" fill="#fbfbfb" />
<path d="M122.2 711.0 L123.4 713.8 L130.3 717.8 L129.1 715.0 Z" stroke-width="0.69" fill="#fbfbfb" />
<path d="M115.1 710.9 L115.3 714.5 L121.9 718.3 L121.7 714.7 Z" stroke-width="0.69" fill="#fbfbfb" />
<path d="M123.8 715.9 L124.0 719.5 L130.9 723.5 L130.7 719.9 Z" stroke-width="0.69" fill="#fbfbfb" />
<path d="M115.1 717.1 L114.3 721.1 L120.8 724.9 L121.7 720.9 Z" stroke-width="0.69" fill="#fbfbfb" />
<path d="M123.7 722.1 L122.9 726.1 L129.8 730.1 L130.7 726.1 Z" stroke-width="0.69" fill="#fbfbfb" />
<path d="M113.4 723.9 L111.7 728.0 L118.2 731.8 L120.0 727.7 Z" stroke-width="0.69" fill="#fbfbfb" />
<path d="M122.1 728.9 L120.3 733.0 L127.2 737.0 L129.0 732.9 Z" stroke-width="0.69" fill="#fbfbfb" />
<ellipse cx="96.9" cy="722.6" rx="13.86" ry="24.00" transform="rotate(30 96.9 722.6)" fill="#fbfbfb" stroke-width="1.15" />
</g>
<path d="M135.9 778.2 A13.28 23.00 30 0 1 158.9 738.4 L223.5 775.0 A13.28 23.00 30 0 1 200.5 814.8 Z" fill="#fbfbfb" stroke-width="1.61" />
<ellipse cx="212.0" cy="794.9" rx="13.28" ry="23.00" transform="rotate(30 212.0 794.9)" fill="#fbfbfb" stroke-width="1.61" />
<ellipse cx="212.0" cy="794.9" rx="12.59" ry="21.80" transform="rotate(30 212.0 794.9)" fill="none" stroke-width="1.03" />
<ellipse cx="212.0" cy="794.9" rx="5.95" ry="10.30" transform="rotate(30 212.0 794.9)" fill="#fbfbfb" stroke-width="1.84" />
<ellipse cx="211.3" cy="794.5" rx="4.39" ry="7.60" transform="rotate(30 211.3 794.5)" fill="none" stroke-width="1.38" />
<path d="M140.1 749.3 L201.7 784.3" stroke-width="1.26" fill="none" />
<path d="M167.2 765.5 L169.2 763.6 L171.2 765.5 L169.2 767.4 Z" fill="#222" stroke-width="1"/>
<path d="M184.5 805.3 L188.0 807.6" stroke-width="1.84" fill="none" />
<path d="M444.3 426.6 A7.35 9.80 30 0 1 454.1 409.6 L458.4 409.1 A9.30 12.40 30 0 1 446.0 430.6 Z" fill="#fbfbfb" stroke-width="1.84" />
<path d="M446.0 430.6 A7.44 12.40 30 0 1 458.4 409.1 L464.6 411.8 A7.92 13.20 30 0 1 451.4 434.6 Z" fill="#fbfbfb" stroke-width="1.72" />
<path d="M450.9 435.5 A8.52 14.20 30 0 1 465.1 410.9 L477.6 416.8 A9.18 15.30 30 0 1 462.4 443.3 Z" fill="#fbfbfb" stroke-width="1.72" />
<path d="M462.2 443.6 A9.36 15.60 30 0 1 477.8 416.6 L508.2 433.1 A9.90 16.50 30 0 1 491.8 461.7 Z" fill="#fbfbfb" stroke-width="1.72" />
<path d="M456.0 423.6 L462.3 427.3 L463.5 425.5 L457.2 421.8 Z" fill="#fbfbfb" stroke-width="1.3"/>
<path d="M477.5 531.0 A44.35 84.80 30 0 1 562.3 384.1 L579.9 394.3 A44.35 84.80 30 0 1 495.1 541.1 Z" fill="#fbfbfb" stroke-width="1.84" />
<ellipse cx="537.5" cy="467.7" rx="44.35" ry="84.80" transform="rotate(30 537.5 467.7)" fill="#fbfbfb" stroke-width="1.84" />
<ellipse cx="537.5" cy="467.7" rx="42.10" ry="80.50" transform="rotate(30 537.5 467.7)" fill="none" stroke-width="1.26" />
<ellipse cx="535.2" cy="466.4" rx="38.35" ry="75.50" transform="rotate(30 535.2 466.4)" fill="#fbfbfb" stroke-width="1.49" />
<path d="M548.3 501.6 A35.00 70.00 30 0 1 515.2 427.2" stroke-width="1.15" fill="none" />
<path d="M530.7 511.3 A32.00 64.00 30 0 1 497.2 457.3" stroke-width="1.15" fill="none" />
<path d="M517.9 512.4 A28.00 56.00 30 0 1 497.7 466.8" stroke-width="1.15" fill="none" />
<path d="M484.0 500.0 C485.3 501.3 488.8 506.2 492.0 508.0 C495.2 509.8 500.3 511.5 503.0 511.0 C505.7 510.5 507.2 506.0 508.0 505.0" stroke-width="1.26" fill="none" />
<path d="M486.0 512.0 C487.3 513.5 490.8 519.0 494.0 521.0 C497.2 523.0 502.2 524.8 505.0 524.0 C507.8 523.2 510.0 517.3 511.0 516.0" stroke-width="1.26" fill="none" />
<path d="M489.0 523.0 C490.3 524.5 493.8 530.0 497.0 532.0 C500.2 534.0 506.2 534.5 508.0 535.0" stroke-width="1.26" fill="none" />
<path d="M483.5 489.0 C484.4 490.2 486.2 494.3 489.0 496.0 C491.8 497.7 496.7 499.5 500.0 499.0 C503.3 498.5 507.5 494.0 509.0 493.0" stroke-width="1.26" fill="none" />
<path d="M492.0 508.0 L497.0 532.0" stroke-width="1.15" fill="none" />
<path d="M503.0 511.0 L508.0 535.0" stroke-width="1.15" fill="none" />
<path d="M556.0 400.0 C557.7 399.5 562.3 397.0 566.0 397.0 C569.7 397.0 574.0 398.2 578.0 400.0 C582.0 401.8 588.0 406.7 590.0 408.0" stroke-width="2.07" fill="none" />
<path d="M557.0 404.0 C558.8 403.7 564.2 401.7 568.0 402.0 C571.8 402.3 576.7 404.3 580.0 406.0 C583.3 407.7 586.7 411.0 588.0 412.0" stroke-width="1.26" fill="none" />
<path d="M562.0 408.0 C561.7 410.0 561.0 416.0 560.0 420.0 C559.0 424.0 556.7 430.0 556.0 432.0" stroke-width="1.26" fill="none" />
<path d="M570.0 407.0 C569.8 408.8 570.2 413.8 569.0 418.0 C567.8 422.2 564.0 429.7 563.0 432.0" stroke-width="1.26" fill="none" />
<path d="M578.0 408.0 C577.8 409.7 578.2 414.7 577.0 418.0 C575.8 421.3 572.0 426.3 571.0 428.0" stroke-width="1.26" fill="none" />
<path d="M585.0 411.0 C584.8 412.2 584.8 416.0 584.0 418.0 C583.2 420.0 580.7 422.2 580.0 423.0" stroke-width="1.26" fill="none" />
<path d="M501.5 491.8 A20.21 35.00 30 0 1 536.5 431.2 L559.0 444.2 A20.21 35.00 30 0 1 524.0 504.8 Z" fill="#fbfbfb" stroke-width="1.49" />
<ellipse cx="541.5" cy="474.5" rx="20.21" ry="35.00" transform="rotate(30 541.5 474.5)" fill="#fbfbfb" stroke-width="1.49" />
<ellipse cx="541.5" cy="474.5" rx="15.30" ry="26.50" transform="rotate(30 541.5 474.5)" fill="none" stroke-width="1.38" />
<path d="M534.4 359.1 A9.20 18.40 29 0 1 552.2 326.9 L570.8 334.3 A9.20 18.40 29 0 1 553.0 366.5 Z" fill="#fbfbfb" stroke-width="1.84"/>
<path d="M535.3 356.8 L538.8 371.7 L535.3 389.3 L531.8 410.4 L524.8 431.5 L514.2 452.6 L506.3 468.9 L500.0 482.0 L520.0 490.0 L560.0 440.0 L552.0 428.0 L557.3 410.4 L559.0 389.3 L562.5 368.2 Z" stroke-width="0.00" fill="#fbfbfb" stroke="none"/>
<path d="M535.3 356.8 C535.9 359.3 538.8 366.3 538.8 371.7 C538.8 377.1 536.5 382.9 535.3 389.3 C534.1 395.8 533.5 403.4 531.8 410.4 C530.0 417.4 527.7 424.5 524.8 431.5 C521.9 438.5 517.3 446.4 514.2 452.6 C511.1 458.8 508.8 463.8 506.3 468.9 C503.8 474.0 500.2 480.6 499.0 483.0" stroke-width="1.72" fill="none" />
<path d="M541.5 373.5 C541.0 376.1 539.7 383.2 538.8 389.3 C537.9 395.4 537.5 403.4 536.2 410.4 C534.9 417.4 533.2 424.5 530.9 431.5 C528.5 438.5 524.9 446.5 522.1 452.6 C519.3 458.7 515.4 465.4 514.0 468.0" stroke-width="1.38" fill="none" />
<path d="M545.9 375.2 C545.6 377.6 544.8 383.4 544.1 389.3 C543.4 395.2 542.4 404.5 541.5 410.4 C540.6 416.3 540.0 419.2 538.8 424.5 C537.6 429.8 536.4 436.8 534.4 442.0 C532.4 447.2 528.2 453.7 527.0 456.0" stroke-width="2.99" fill="none" />
<path d="M550.3 371.7 C550.1 374.6 549.2 382.9 548.9 389.3 C548.5 395.8 548.1 403.9 548.2 410.4 C548.3 416.8 549.3 425.1 549.5 428.0" stroke-width="1.38" fill="none" />
<path d="M556.6 372.0 C556.3 375.8 555.7 386.1 555.0 395.0 C554.3 403.9 553.0 420.5 552.6 425.6" stroke-width="2.99" fill="none" />
<path d="M562.3 368.2 C561.8 371.7 560.4 382.3 559.6 389.3 C558.8 396.3 558.5 404.1 557.6 410.4 C556.7 416.7 554.6 424.2 554.0 427.0" stroke-width="1.61" fill="none" />
<path d="M529.3 409.1 L537.3 411.3" stroke-width="1.26" fill="none" />
<path d="M543.0 409.0 L549.8 408.5" stroke-width="1.26" fill="none" />
<path d="M536.0 357.5 C537.2 358.6 540.7 362.3 543.0 364.0 C545.3 365.7 547.8 367.2 550.0 367.5 C552.2 367.8 555.0 366.2 556.0 366.0" stroke-width="1.26" fill="none" />
<path d="M538.5 372.0 C539.6 372.7 542.9 375.9 545.0 376.0 C547.1 376.1 550.0 373.1 551.0 372.5" stroke-width="1.15" fill="none" />
<ellipse cx="561.9" cy="350.4" rx="9.20" ry="18.40" transform="rotate(29 561.9 350.4)" fill="#fbfbfb" stroke-width="1.95" />
<ellipse cx="562.1" cy="350.6" rx="7.20" ry="14.40" transform="rotate(29 562.1 350.6)" fill="#fbfbfb" stroke-width="2.18" />
<path d="M567.1 338.6 A6.80 13.60 29 0 1 557.6 359.9" stroke-width="1.49" fill="none" />
<path d="M545.6 339.6 L556.8 333.2" stroke-width="3.6" stroke-linecap="round"/><path d="M545.6 339.6 L556.8 333.2" stroke-width="1.4" stroke="#fbfbfb" stroke-linecap="round"/>
<path d="M506.0 446.5 L527.0 456.0" stroke-width="1.38" fill="none" />
<path d="M514.0 428.0 C512.7 430.0 508.3 435.3 506.0 440.0 C503.7 444.7 501.5 450.7 500.0 456.0 C498.5 461.3 497.5 469.3 497.0 472.0" stroke-width="1.49" fill="none" />
<path d="M518.0 424.0 C516.8 426.2 513.2 432.3 511.0 437.0 C508.8 441.7 506.0 449.5 505.0 452.0" stroke-width="1.15" fill="none" />
<path d="M520.4 556.0 A44.45 85.00 30 0 1 605.4 408.8 L622.8 418.8 A44.45 85.00 30 0 1 537.8 566.0 Z" fill="#fbfbfb" stroke-width="1.95" />
<ellipse cx="580.2" cy="492.4" rx="44.04" ry="84.20" transform="rotate(30 580.2 492.4)" fill="#fbfbfb" stroke-width="1.84" />
<path d="M587.0 549.7 A42.15 80.60 30 1 1 615.1 420.3" stroke-width="1.38" fill="none" />
<ellipse cx="577.9" cy="491.4" rx="38.40" ry="75.60" transform="rotate(30 577.9 491.4)" fill="#fbfbfb" stroke-width="1.72" />
<path d="M570.2 447.9 C569.4 446.6 571.6 445.6 574.2 443.3 C576.8 441.0 581.4 436.9 585.6 434.2 C589.8 431.5 594.7 428.5 599.3 427.1 C603.9 425.7 609.6 425.8 613.0 426.0 C616.4 426.2 618.3 426.9 619.8 428.3 C621.3 429.7 622.3 431.9 622.1 434.2 C621.9 436.5 621.0 438.4 618.7 442.2 C616.4 446.0 610.9 453.7 608.4 457.0 C605.9 460.3 605.3 461.0 603.8 462.1 C602.3 463.2 600.8 463.8 599.3 463.8 C597.8 463.8 596.4 463.2 594.7 462.1 C593.0 461.0 591.6 458.8 589.0 457.0 C586.4 455.2 581.9 452.8 578.8 451.3 C575.7 449.8 571.0 449.2 570.2 447.9 Z" stroke-width="1.84" fill="#fbfbfb" />
<path d="M606.7 429.1 L589.0 454.7" stroke-width="1.49" fill="none" />
<path d="M612.4 427.9 L595.9 459.3" stroke-width="1.49" fill="none" />
<path d="M593.6 451.3 L608.4 457.0" stroke-width="1.26" fill="none" />
<path d="M581.4 443.1 A5.00 12.50 35 0 1 595.6 437.9" stroke-width="1.49" fill="none" />
<path d="M582.6 443.8 A3.80 9.50 35 1 1 593.3 439.9" stroke-width="1.26" fill="none" />
<path d="M579.7 443.8 A5.00 12.50 35 0 1 594.3 435.6" stroke-width="1.15" fill="none" />
<path d="M532.6 514.2 C534.5 514.0 537.0 517.0 540.6 518.8 C544.2 520.6 550.9 523.6 554.3 525.0 C557.7 526.4 559.6 526.4 561.1 527.3 C562.6 528.2 563.8 527.4 563.4 530.2 C563.0 533.0 560.6 539.4 558.9 543.9 C557.2 548.4 554.8 554.5 553.1 557.5 C551.4 560.5 550.1 561.4 548.6 562.1 C547.1 562.8 546.5 563.0 544.0 561.5 C541.5 560.0 536.3 555.9 533.8 553.0 C531.3 550.1 530.2 547.7 529.2 543.9 C528.2 540.1 528.1 534.2 528.1 530.2 C528.1 526.2 528.5 522.6 529.2 519.9 C530.0 517.2 530.7 514.4 532.6 514.2 Z" stroke-width="1.84" fill="#fbfbfb" />
<path d="M548.6 523.9 L538.3 553.0" stroke-width="1.49" fill="none" />
<path d="M554.3 525.6 L544.0 557.5" stroke-width="1.49" fill="none" />
<path d="M536.0 550.7 L552.0 558.7" stroke-width="1.26" fill="none" />
<path d="M543.0 524.4 A5.40 13.50 20 0 1 531.1 546.7" stroke-width="1.49" fill="none" />
<path d="M541.2 525.7 A4.20 10.50 20 0 1 531.8 543.3" stroke-width="1.26" fill="none" />
<path d="M540.9 529.3 A5.40 13.50 20 0 1 529.4 548.7" stroke-width="1.15" fill="none" />
<ellipse cx="561.7" cy="485.4" rx="12.88" ry="22.20" transform="rotate(30 561.7 485.4)" fill="#fbfbfb" stroke-width="2.18" />
<ellipse cx="561.7" cy="485.4" rx="7.57" ry="11.30" transform="rotate(30 561.7 485.4)" fill="none" stroke-width="2.07" />
<ellipse cx="561.7" cy="485.4" rx="5.63" ry="8.40" transform="rotate(30 561.7 485.4)" fill="none" stroke-width="1.38" />
<path d="M553.2 480.8 L555.4 482.6" stroke-width="2.30" fill="none" />
<path d="M567.8 491.1 A19.80 33.00 30 0 1 608.6 494.3" stroke-width="1.38" fill="none" />
<path d="M571.5 489.0 A17.70 29.50 30 0 1 605.6 497.2" stroke-width="1.38" fill="none" />
<path d="M574.5 488.4 A15.60 26.00 30 0 1 603.2 497.6" stroke-width="1.26" fill="none" />
<path d="M588.0 526.0 A19.80 33.00 30 0 1 562.4 505.7" stroke-width="1.38" fill="none" />
<path d="M589.5 521.5 A17.40 29.00 30 0 1 564.6 509.5" stroke-width="1.26" fill="none" />
<path d="M569.4 513.0 A10.56 19.20 30 0 1 588.6 479.8 L602.6 487.7 A10.56 19.20 30 0 1 583.4 521.0 Z" fill="#fbfbfb" stroke-width="1.49" />
<path d="M573.8 492.6 L601.3 508.9" stroke-width="1.15" fill="none" />
<path d="M581.1 523.1 A11.10 22.20 30 0 1 603.3 484.7 L607.1 486.8 A11.10 22.20 30 0 1 584.9 525.3 Z" fill="#fbfbfb" stroke-width="3.68" />
<ellipse cx="596.0" cy="506.0" rx="11.10" ry="22.20" transform="rotate(30 596.0 506.0)" fill="#fbfbfb" stroke-width="3.68" />
<ellipse cx="596.0" cy="506.0" rx="10.25" ry="20.50" transform="rotate(30 596.0 506.0)" fill="none" stroke-width="1.38" />
<path d="M586.1 523.2 A9.90 19.80 30 0 1 605.9 488.9 L616.9 495.1 A9.90 19.80 30 0 1 597.1 529.4 Z" fill="#fbfbfb" stroke-width="1.38" />
<path d="M596.6 529.1 A9.90 19.80 30 0 1 616.4 494.9 L619.7 496.7 A9.90 19.80 30 0 1 599.9 531.0 Z" fill="#fbfbfb" stroke-width="2.76" />
<ellipse cx="609.8" cy="513.9" rx="9.90" ry="19.80" transform="rotate(30 609.8 513.9)" fill="#fbfbfb" stroke-width="2.76" />
<path d="M601.0 529.1 A8.80 17.60 30 0 1 618.6 498.6 L621.3 500.2 A8.80 17.60 30 0 1 603.7 530.6 Z" fill="#fbfbfb" stroke-width="1.38" />
<ellipse cx="612.5" cy="515.4" rx="8.80" ry="17.60" transform="rotate(30 612.5 515.4)" fill="#fbfbfb" stroke-width="1.38" />
<path d="M604.1 530.0 A8.40 16.80 30 0 1 620.9 500.9 L632.9 507.7 A8.40 16.80 30 0 1 616.1 536.8 Z" fill="#2b2b2b" stroke-width="1.84" />
<path d="M604.4 529.9 L603.5 528.5 L612.0 533.4 L612.9 534.7 Z" stroke-width="0.57" fill="#fbfbfb" />
<path d="M602.9 526.8 L602.7 524.8 L611.2 529.6 L611.5 531.7 Z" stroke-width="0.57" fill="#fbfbfb" />
<path d="M602.8 522.5 L603.2 520.0 L611.8 524.9 L611.3 527.3 Z" stroke-width="0.57" fill="#fbfbfb" />
<path d="M604.0 517.4 L605.1 514.8 L613.6 519.6 L612.5 522.3 Z" stroke-width="0.57" fill="#fbfbfb" />
<path d="M606.4 512.2 L607.9 509.7 L616.5 514.5 L614.9 517.0 Z" stroke-width="0.57" fill="#fbfbfb" />
<path d="M609.7 507.4 L611.5 505.4 L620.0 510.2 L618.2 512.3 Z" stroke-width="0.57" fill="#fbfbfb" />
<path d="M613.4 503.7 L615.4 502.4 L623.9 507.2 L622.0 508.5 Z" stroke-width="0.57" fill="#fbfbfb" />
<path d="M617.3 501.5 L619.0 501.1 L627.6 505.9 L625.8 506.3 Z" stroke-width="0.57" fill="#fbfbfb" />
<ellipse cx="624.5" cy="522.2" rx="8.60" ry="17.20" transform="rotate(30 624.5 522.2)" fill="#fbfbfb" stroke-width="2.53" />
<ellipse cx="624.5" cy="522.2" rx="7.30" ry="14.60" transform="rotate(30 624.5 522.2)" fill="none" stroke-width="1.26" />
<path d="M617.6 534.2 A6.90 13.80 30 0 1 631.4 510.3 L652.4 525.6 A5.40 10.80 30 0 1 641.6 544.3 Z" fill="#fbfbfb" stroke-width="1.61" />
<path d="M630.4 526 L640.6 532 L641.8 530.2 L631.6 524.2 Z" fill="#fbfbfb" stroke-width="1.1"/>
<path d="M641.2 543.9 A5.30 10.60 30 0 1 651.8 525.5 L654.8 527.2 A5.30 10.60 30 0 1 644.2 545.6 Z" fill="#fbfbfb" stroke-width="2.53" />
<ellipse cx="649.5" cy="536.4" rx="5.30" ry="10.60" transform="rotate(30 649.5 536.4)" fill="#fbfbfb" stroke-width="2.53" />
<path d="M645.5 543.3 A4.00 8.00 30 0 1 653.5 529.5 L675.6 542.0 A4.00 8.00 30 0 1 667.6 555.9 Z" fill="#fbfbfb" stroke-width="1.72" />
<path d="M656.7 549.7 A4.00 8.00 30 0 1 664.7 535.9" stroke-width="1.84" fill="none" />
<path d="M658.7 550.8 A4.00 8.00 30 0 1 666.7 537.0" stroke-width="1.15" fill="none" />
<ellipse cx="671.6" cy="549.0" rx="4.18" ry="7.60" transform="rotate(30 671.6 549.0)" fill="#3a3a3a" stroke-width="2.07" />
<path d="M27.3 173.6 L66.5 196.2" stroke-width="1.09" />
<path d="M91.0 210.3 L156.2 247.9" stroke-width="1.09" />
<path d="M162.5 251.5 L228.0 289.2" stroke-width="1.09" />
<path d="M238.3 295.1 L481.0 434.9" stroke-width="1.09" />
<path d="M676.6 552.5 L851.5 653.1" stroke-width="1.09" />
<path d="M860.7 658.4 L911.0 687.3" stroke-width="1.09" />
<path d="M918.5 691.6 L984.0 729.3" stroke-width="1.09" />
<path d="M994.2 735.2 L1024.0 752.3" stroke-width="1.09" />
<text x="300" y="197.5" font-size="12.3" text-anchor="middle" stroke="#111" stroke-width="0.45" fill="#111" textLength="86" lengthAdjust="spacingAndGlyphs">FRENAFILETTI</text>
<text x="298.5" y="214" font-size="12.3" text-anchor="middle" stroke="#111" stroke-width="0.45" fill="#111" textLength="120.5" lengthAdjust="spacingAndGlyphs">MEDIA RESISTENZA</text>
<path d="M233.0 201.0 L374.0 201.0 L374.0 255.0" stroke-width="1.15" />
<text x="252" y="494.5" font-size="12.3" text-anchor="middle" stroke="#111" stroke-width="0.45" fill="#111" textLength="86" lengthAdjust="spacingAndGlyphs">FRENAFILETTI</text>
<text x="250.5" y="510.5" font-size="12.3" text-anchor="middle" stroke="#111" stroke-width="0.45" fill="#111" textLength="120.5" lengthAdjust="spacingAndGlyphs">MEDIA RESISTENZA</text>
<path d="M184.0 497.7 L325.3 497.7 L325.3 444.0" stroke-width="1.15" />
<text x="350.8" y="548.8" font-size="12.3" text-anchor="middle" stroke="#111" stroke-width="0.45" fill="#111" textLength="86" lengthAdjust="spacingAndGlyphs">FRENAFILETTI</text>
<text x="349.3" y="564.7" font-size="12.3" text-anchor="middle" stroke="#111" stroke-width="0.45" fill="#111" textLength="120.5" lengthAdjust="spacingAndGlyphs">MEDIA RESISTENZA</text>
<path d="M283.6 552.1 L447.6 552.1 L447.6 423.5" stroke-width="1.15" />
<text x="822.5" y="449.5" font-size="12.3" text-anchor="middle" stroke="#111" stroke-width="0.45" fill="#111" textLength="86" lengthAdjust="spacingAndGlyphs">FRENAFILETTI</text>
<text x="821.0" y="465.2" font-size="12.3" text-anchor="middle" stroke="#111" stroke-width="0.45" fill="#111" textLength="120.5" lengthAdjust="spacingAndGlyphs">MEDIA RESISTENZA</text>
<path d="M754.9 476.8 L754.9 453.4 L896.0 453.4" stroke-width="1.15" />
<text x="659.5" y="633.5" font-size="12.3" text-anchor="middle" stroke="#111" stroke-width="0.45" fill="#111" textLength="86" lengthAdjust="spacingAndGlyphs">FRENAFILETTI</text>
<text x="658.0" y="649.3" font-size="12.3" text-anchor="middle" stroke="#111" stroke-width="0.45" fill="#111" textLength="120.5" lengthAdjust="spacingAndGlyphs">MEDIA RESISTENZA</text>
<path d="M592.3 521.0 L592.3 637.0 L733.0 637.0" stroke-width="1.15" />
<text x="802" y="730.8" font-size="12.3" text-anchor="middle" stroke="#111" stroke-width="0.45" fill="#111" textLength="86" lengthAdjust="spacingAndGlyphs">FRENAFILETTI</text>
<text x="800.5" y="746.7" font-size="12.3" text-anchor="middle" stroke="#111" stroke-width="0.45" fill="#111" textLength="120.5" lengthAdjust="spacingAndGlyphs">MEDIA RESISTENZA</text>
<path d="M734.5 710.0 L734.5 734.6 L875.6 734.6" stroke-width="1.15" />
<path d="M20.5 195.7 L0.5 223.0 L0.5 278.0 L57.0 335.0" stroke-width="1.15" />
<path d="M89.6 331.0 L89.6 262.0" stroke-width="1.15" />
<path d="M117.0 332.5 L153.0 278.0" stroke-width="1.15" />
<path d="M144.0 337.0 L208.0 296.0" stroke-width="1.15" />
<circle cx="65.5" cy="342" r="10.7" fill="#fbfbfb" stroke-width="1"/>
<text x="65.5" y="347" font-size="14.3" text-anchor="middle" stroke="#111" stroke-width="0.5" fill="#111">14</text>
<circle cx="89" cy="342" r="10.7" fill="#fbfbfb" stroke-width="1"/>
<text x="89" y="347" font-size="14.3" text-anchor="middle" stroke="#111" stroke-width="0.5" fill="#111">15</text>
<circle cx="111.7" cy="342" r="10.7" fill="#fbfbfb" stroke-width="1"/>
<text x="111.7" y="347" font-size="14.3" text-anchor="middle" stroke="#111" stroke-width="0.5" fill="#111">10</text>
<circle cx="134.7" cy="342" r="10.7" fill="#fbfbfb" stroke-width="1"/>
<text x="134.7" y="347" font-size="14.3" text-anchor="middle" stroke="#111" stroke-width="0.5" fill="#111">6</text>
<path d="M343.0 273.0 L318.0 297.0" stroke-width="1.15" />
<path d="M369.0 275.5 L351.0 311.0" stroke-width="1.15" />
<path d="M403.0 275.0 L409.0 287.0 L409.0 317.0 L394.0 330.0" stroke-width="1.15" />
<circle cx="351" cy="265.7" r="10.7" fill="#fbfbfb" stroke-width="1"/>
<text x="351" y="270.7" font-size="14.3" text-anchor="middle" stroke="#111" stroke-width="0.5" fill="#111">8</text>
<circle cx="374" cy="265.7" r="10.7" fill="#fbfbfb" stroke-width="1"/>
<text x="374" y="270.7" font-size="14.3" text-anchor="middle" stroke="#111" stroke-width="0.5" fill="#111">7</text>
<circle cx="397" cy="265.7" r="10.7" fill="#fbfbfb" stroke-width="1"/>
<text x="397" y="270.7" font-size="14.3" text-anchor="middle" stroke="#111" stroke-width="0.5" fill="#111">12</text>
<path d="M304.0 423.0 L316.0 392.0" stroke-width="1.15" />
<path d="M330.0 424.0 L349.0 396.0" stroke-width="1.15" />
<circle cx="302.2" cy="433.3" r="10.7" fill="#fbfbfb" stroke-width="1"/>
<text x="302.2" y="438.3" font-size="14.3" text-anchor="middle" stroke="#111" stroke-width="0.5" fill="#111">8</text>
<circle cx="324.9" cy="433.3" r="10.7" fill="#fbfbfb" stroke-width="1"/>
<text x="324.9" y="438.3" font-size="14.3" text-anchor="middle" stroke="#111" stroke-width="0.5" fill="#111">7</text>
<path d="M606.0 45.2 L634.7 45.2" stroke-width="1.15" />
<circle cx="645.3" cy="44.4" r="10.7" fill="#fbfbfb" stroke-width="1"/>
<text x="645.3" y="49.4" font-size="14.3" text-anchor="middle" stroke="#111" stroke-width="0.5" fill="#111">5</text>
<path d="M456.2 91.4 L468.1 111.7" stroke-width="1.15" />
<circle cx="451.6" cy="81.3" r="10.7" fill="#fbfbfb" stroke-width="1"/>
<text x="451.6" y="86.3" font-size="14.3" text-anchor="middle" stroke="#111" stroke-width="0.5" fill="#111">4</text>
<path d="M632.5 179.0 L624.0 191.0" stroke-width="1.15" />
<circle cx="639.3" cy="170.7" r="10.7" fill="#fbfbfb" stroke-width="1"/>
<text x="639.3" y="175.7" font-size="14.3" text-anchor="middle" stroke="#111" stroke-width="0.5" fill="#111">3</text>
<path d="M667.3 180.0 L678.7 194.0 L678.7 222.0" stroke-width="1.15" />
<circle cx="661.7" cy="170.7" r="10.7" fill="#fbfbfb" stroke-width="1"/>
<text x="661.7" y="175.7" font-size="14.3" text-anchor="middle" stroke="#111" stroke-width="0.5" fill="#111">4</text>
<path d="M688.6 128.0 L716.5 128.0" stroke-width="1.15" />
<circle cx="727" cy="127.8" r="10.7" fill="#fbfbfb" stroke-width="1"/>
<text x="727" y="132.8" font-size="14.3" text-anchor="middle" stroke="#111" stroke-width="0.5" fill="#111">2</text>
<path d="M688.4 452.8 L716.5 452.8" stroke-width="1.15" />
<circle cx="727.5" cy="452.8" r="10.7" fill="#fbfbfb" stroke-width="1"/>
<text x="727.5" y="457.8" font-size="14.3" text-anchor="middle" stroke="#111" stroke-width="0.5" fill="#111">1</text>
<path d="M727.0 497.0 L713.0 517.0" stroke-width="1.15" />
<path d="M753.0 498.5 L746.0 540.0" stroke-width="1.15" />
<path d="M781.0 498.5 L791.0 528.0 L791.0 562.0" stroke-width="1.15" />
<circle cx="731.9" cy="487.6" r="10.7" fill="#fbfbfb" stroke-width="1"/>
<text x="731.9" y="492.6" font-size="14.3" text-anchor="middle" stroke="#111" stroke-width="0.5" fill="#111">11</text>
<circle cx="754.9" cy="487.6" r="10.7" fill="#fbfbfb" stroke-width="1"/>
<text x="754.9" y="492.6" font-size="14.3" text-anchor="middle" stroke="#111" stroke-width="0.5" fill="#111">7</text>
<circle cx="778.9" cy="487.6" r="10.7" fill="#fbfbfb" stroke-width="1"/>
<text x="778.9" y="492.6" font-size="14.3" text-anchor="middle" stroke="#111" stroke-width="0.5" fill="#111">8</text>
<path d="M739.9 689.3 L760.6 651.0" stroke-width="1.15" />
<path d="M765.4 690.9 L784.6 667.0" stroke-width="1.15" />
<circle cx="734.5" cy="699.5" r="10.7" fill="#fbfbfb" stroke-width="1"/>
<text x="734.5" y="704.5" font-size="14.3" text-anchor="middle" stroke="#111" stroke-width="0.5" fill="#111">7</text>
<circle cx="757.5" cy="699.5" r="10.7" fill="#fbfbfb" stroke-width="1"/>
<text x="757.5" y="704.5" font-size="14.3" text-anchor="middle" stroke="#111" stroke-width="0.5" fill="#111">8</text>
<path d="M950.5 629.5 L897.9 662.0" stroke-width="1.15" />
<path d="M977.5 632.5 L955.3 671.0" stroke-width="1.15" />
<path d="M1005.5 633.0 L1005.5 710.6" stroke-width="1.15" />
<circle cx="958.5" cy="622.2" r="10.7" fill="#fbfbfb" stroke-width="1"/>
<text x="958.5" y="627.2" font-size="14.3" text-anchor="middle" stroke="#111" stroke-width="0.5" fill="#111">6</text>
<circle cx="982.2" cy="622.2" r="10.7" fill="#fbfbfb" stroke-width="1"/>
<text x="982.2" y="627.2" font-size="14.3" text-anchor="middle" stroke="#111" stroke-width="0.5" fill="#111">9</text>
<circle cx="1005.5" cy="622.2" r="10.7" fill="#fbfbfb" stroke-width="1"/>
<text x="1005.5" y="627.2" font-size="14.3" text-anchor="middle" stroke="#111" stroke-width="0.5" fill="#111">13</text>
<path d="M235.6 685.0 L262.5 685.0" stroke-width="1.15" />
<circle cx="273.3" cy="685" r="10.7" fill="#fbfbfb" stroke-width="1"/>
<text x="273.3" y="690" font-size="14.3" text-anchor="middle" stroke="#111" stroke-width="0.5" fill="#111">20</text>
<defs><pattern id="dots" width="3" height="3" patternUnits="userSpaceOnUse"><rect x="1" y="1" width="1.15" height="1.15" fill="#444" stroke="none"/></pattern></defs>
<g fill="url(#dots)" stroke="none" opacity="0.42">
<path d="M372 369 L431 369 L428 392 L400 392 L398 400 L424 400 L419 445 L351 445 L354 424 L386 424 L388 414 L358 414 L362 380 Z"/>
<path d="M438 369 L500 369 L497 392 L470 392 L466 424 L494 424 L492 445 L434 445 Z"/>
<path d="M514 369 L545 369 L543 400 L512 400 Z"/>
<path d="M552 369 L636 369 L634 388 L610 388 L606 445 L574 445 L578 388 L550 388 Z"/>
<path d="M474 445 L640 445 L640 437 L674 437 L672 462 L648 462 L645 492 L628 492 L626 512 L560 512 L556 524 L520 524 L516 538 L462 538 L466 445 Z"/>
</g>
<text x="532" y="873.5" font-size="18" text-anchor="middle" stroke="#111" stroke-width="0.45" fill="#111" textLength="281" lengthAdjust="spacingAndGlyphs">© Copyright 2019 Betamotor S.p.A.</text>
</g>
</svg></body></html>
